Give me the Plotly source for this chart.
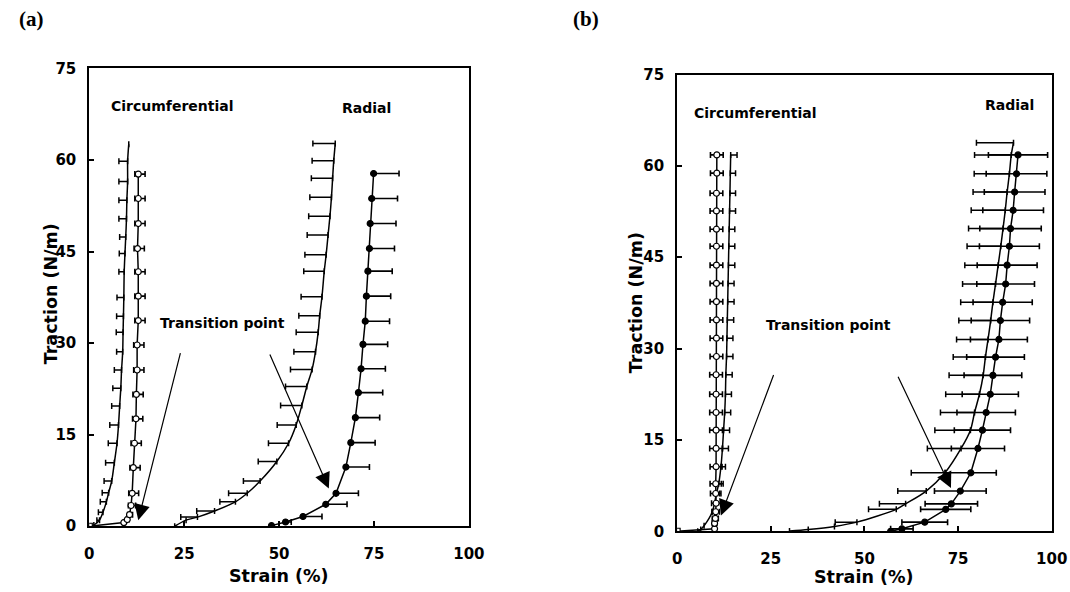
import plotly.graph_objects as go

# ---------------- Panel (a) data ----------------
circ_a_y = [0, 0.6, 1.1, 1.9, 3.4, 5.4, 9.6, 13.6, 17.6, 21.6, 25.6, 29.7, 33.7, 37.7, 41.7, 45.5, 49.6, 53.7, 57.7]
circ_a_x = [0.0, 9.1, 10.0, 10.6, 11.0, 11.3, 11.6, 11.9, 12.3, 12.4, 12.6, 12.6, 12.9, 12.9, 12.9, 12.7, 12.9, 12.9, 12.9]
circ_a_ep = [0, 0.3, 0.5, 0.8, 1.2, 1.7, 1.8, 1.8, 1.8, 1.8, 1.8, 1.8, 1.8, 1.8, 1.8, 1.8, 1.8, 1.8, 1.8]
circ_a_em = [0, 0.2, 0.3, 0.5, 0.7, 0.9, 0.9, 0.9, 0.9, 0.9, 0.9, 0.9, 0.9, 0.9, 0.9, 0.9, 0.9, 0.9, 0.9]

circ_fit_a_y = [0.0, 0.2, 1.0, 2.3, 4.0, 5.5, 7.4, 10.4, 13.6, 16.6, 19.7, 22.6, 25.6, 28.6, 31.8, 34.4, 37.5, 41.7, 44.7, 47.4, 50.4, 53.4, 56.5, 59.8, 62.6]
circ_fit_a_x = [0.3, 1.2, 2.7, 3.6, 4.5, 5.1, 5.9, 6.6, 7.3, 7.7, 8.0, 8.3, 8.5, 8.8, 8.9, 9.0, 9.1, 9.2, 9.4, 9.6, 9.8, 9.9, 10.1, 10.1, 10.4]
circ_fit_a_em = [0, 0, 0.7, 1.2, 1.6, 1.7, 2.0, 2.3, 2.3, 2.3, 2.1, 2.1, 1.9, 1.6, 1.8, 1.8, 1.8, 1.4, 1.5, 1.6, 2.0, 2.1, 2.3, 2.3, 0]

rad_a_y = [0.1, 0.7, 1.6, 3.6, 5.4, 9.7, 13.7, 17.8, 21.9, 25.8, 29.8, 33.6, 37.7, 41.8, 45.5, 49.6, 53.7, 57.8]
rad_a_x = [48.0, 51.7, 56.3, 62.3, 65.0, 67.6, 68.9, 70.1, 70.9, 71.6, 72.1, 72.7, 73.0, 73.4, 73.8, 74.0, 74.4, 74.9]
rad_a_ep = [0, 1.5, 5.0, 5.6, 5.9, 6.2, 6.4, 6.4, 6.4, 6.4, 6.5, 6.4, 6.4, 6.4, 6.6, 6.8, 6.8, 6.7]

rad_fit_a_y = [0.0, 1.0, 1.5, 2.5, 4.0, 5.4, 7.4, 10.6, 13.6, 16.6, 19.8, 22.9, 25.7, 28.6, 31.8, 34.5, 37.6, 41.8, 44.5, 47.7, 50.8, 53.9, 57.0, 59.9, 62.7]
rad_fit_a_x = [22.5, 25.5, 28.5, 33.0, 38.5, 41.6, 45.0, 49.4, 52.5, 54.5, 56.0, 57.3, 58.7, 59.6, 60.3, 60.7, 61.3, 61.9, 62.4, 62.9, 63.4, 63.8, 64.1, 64.4, 64.8]
rad_fit_a_em = [0, 0, 4.4, 4.7, 4.1, 4.9, 4.4, 4.9, 5.3, 5.0, 5.6, 5.6, 5.7, 5.7, 5.8, 5.5, 5.5, 5.4, 5.6, 5.5, 5.6, 5.7, 5.6, 5.7, 5.9]

# ---------------- Panel (b) data ----------------
circ_b_y = [0, 0.4, 1.3, 2.1, 3.2, 4.6, 6.2, 7.8, 10.6, 13.6, 16.6, 19.5, 22.5, 25.7, 28.7, 31.7, 34.7, 37.7, 40.7, 43.7, 46.8, 49.6, 52.6, 55.5, 58.8, 61.8]
circ_b_x = [0.0, 10.0, 10.0, 10.2, 10.3, 10.4, 10.3, 10.3, 10.4, 10.4, 10.4, 10.4, 10.4, 10.4, 10.5, 10.5, 10.5, 10.5, 10.5, 10.5, 10.5, 10.5, 10.5, 10.5, 10.6, 10.6]
circ_b_err = [0, 0.4, 0.6, 0.8, 1.0, 1.2, 1.4, 1.5, 1.6, 1.7, 1.7, 1.7, 1.7, 1.7, 1.7, 1.7, 1.7, 1.7, 1.7, 1.7, 1.7, 1.7, 1.7, 1.7, 1.7, 1.7]

circ_fit_b_y = [0.0, 0.3, 0.9, 3.2, 6.2, 7.8, 10.6, 13.6, 16.6, 19.5, 22.5, 25.7, 28.7, 31.7, 34.7, 37.7, 40.7, 43.7, 46.8, 49.6, 52.6, 55.5, 58.8, 61.8]
circ_fit_b_x = [5.5, 6.3, 7.2, 9.4, 10.5, 11.1, 11.7, 12.1, 12.4, 12.7, 12.9, 13.0, 13.2, 13.3, 13.4, 13.5, 13.6, 13.7, 13.8, 13.9, 14.0, 14.1, 14.2, 14.3]
circ_fit_b_ep = [0, 0, 0, 0, 0.8, 1.2, 1.2, 1.6, 1.6, 1.6, 1.6, 1.7, 1.7, 1.6, 1.7, 1.7, 1.6, 1.7, 1.6, 1.5, 1.6, 1.5, 1.4, 1.7]

rad_b_y = [0.0, 0.4, 1.5, 3.6, 4.5, 6.6, 9.6, 13.6, 16.6, 19.5, 22.5, 25.6, 28.6, 31.5, 34.6, 37.6, 40.6, 43.7, 46.8, 49.7, 52.7, 55.7, 58.7, 61.8]
rad_b_x = [57.0, 60.0, 66.1, 71.7, 73.2, 75.6, 78.4, 80.3, 81.5, 82.5, 83.6, 84.3, 85.0, 85.9, 86.3, 86.9, 87.7, 88.1, 88.7, 89.0, 89.7, 90.1, 90.6, 91.0]
rad_b_err = [0, 3.0, 6.1, 6.7, 7.0, 6.9, 6.8, 7.1, 7.5, 7.8, 7.5, 7.7, 7.7, 7.6, 7.8, 7.9, 7.7, 8.0, 8.0, 8.2, 8.1, 8.1, 8.1, 7.9]

rad_fit_b_y = [0.05, 0.3, 0.8, 1.5, 3.6, 4.5, 6.6, 9.6, 13.6, 16.6, 19.5, 22.5, 25.6, 28.6, 31.5, 34.6, 37.6, 40.6, 43.7, 46.8, 49.7, 52.7, 55.7, 58.7, 61.8, 63.8]
rad_fit_b_x = [30.0, 35.0, 42.0, 48.0, 58.5, 61.0, 66.5, 71.5, 75.8, 78.3, 79.4, 80.7, 81.7, 82.3, 83.0, 83.7, 84.3, 85.0, 85.7, 86.4, 87.0, 87.6, 88.1, 88.7, 89.2, 89.8]
rad_fit_b_em = [0, 0, 0, 5.8, 7.4, 7.0, 7.6, 9.0, 9.0, 9.5, 9.1, 9.0, 9.1, 8.6, 8.4, 8.5, 8.6, 8.8, 8.9, 9.0, 9.2, 9.1, 9.1, 9.4, 9.8, 9.9]

x_ticks = [0, 25, 50, 75, 100]
y_ticks = [0, 15, 30, 45, 60, 75]

W, H = 1070, 592
FONT = "DejaVu Sans"
BLACK = "#000000"


def fx(p):
    """target horizontal pixel -> paper fraction"""
    return ((p - 3.4) / 0.984) / W


def fy(p):
    """target vertical pixel (from top) -> paper fraction"""
    return 1 - ((p - 9.6) / 0.968) / H


fig = go.Figure()


def add_fit(x, y, ex_plus, ex_minus, xa, ya):
    fig.add_trace(go.Scatter(
        x=x, y=y, mode="lines", xaxis=xa, yaxis=ya,
        line=dict(color=BLACK, width=1.5, shape="spline", smoothing=0.8),
        error_x=dict(type="data", symmetric=False, array=ex_plus, arrayminus=ex_minus,
                     color=BLACK, thickness=1.5, width=3),
        showlegend=False, hoverinfo="skip"))


def add_data(x, y, ex_plus, ex_minus, xa, ya, filled):
    syms = ["square"] + ["circle"] * (len(x) - 1)
    fig.add_trace(go.Scatter(
        x=x, y=y, mode="lines+markers", xaxis=xa, yaxis=ya,
        line=dict(color=BLACK, width=1.5),
        marker=dict(symbol=syms if not filled else "circle", size=6,
                    color=BLACK if filled else "white",
                    line=dict(color=BLACK, width=1.2)),
        error_x=dict(type="data", symmetric=False, array=ex_plus, arrayminus=ex_minus,
                     color=BLACK, thickness=1.6, width=3),
        showlegend=False, hoverinfo="skip"))


zeros = lambda n: [0] * n

# panel (a)
add_fit(circ_fit_a_x, circ_fit_a_y, zeros(len(circ_fit_a_x)), circ_fit_a_em, "x", "y")
add_fit(rad_fit_a_x, rad_fit_a_y, zeros(len(rad_fit_a_x)), rad_fit_a_em, "x", "y")
add_data(circ_a_x, circ_a_y, circ_a_ep, circ_a_em, "x", "y", False)
add_data(rad_a_x, rad_a_y, rad_a_ep, zeros(len(rad_a_x)), "x", "y", True)

# panel (b)
add_fit(circ_fit_b_x, circ_fit_b_y, circ_fit_b_ep, zeros(len(circ_fit_b_x)), "x2", "y2")
add_fit(rad_fit_b_x, rad_fit_b_y, zeros(len(rad_fit_b_x)), rad_fit_b_em, "x2", "y2")
add_data(rad_b_x, rad_b_y, rad_b_err, rad_b_err, "x2", "y2", True)
add_data(circ_b_x, circ_b_y, circ_b_err, circ_b_err, "x2", "y2", False)

axis_common = dict(
    showline=True, mirror=True, linecolor=BLACK, linewidth=2,
    ticks="inside", ticklen=5, tickwidth=1.5, tickcolor=BLACK,
    showgrid=False, zeroline=False,
    tickfont=dict(family=FONT, size=15, color=BLACK, weight="bold"),
)

fig.update_layout(
    width=W, height=H,
    margin=dict(l=0, r=0, t=0, b=0),
    paper_bgcolor="white", plot_bgcolor="white",
    xaxis=dict(domain=[fx(88), fx(469)], range=[0, 100], tickvals=x_ticks, anchor="y",
               ticklabelstandoff=13, **axis_common),
    yaxis=dict(domain=[fy(526), fy(69)], range=[0, 75], tickvals=y_ticks, anchor="x",
               ticklabelstandoff=8, **axis_common),
    xaxis2=dict(domain=[fx(678), fx(1054)], range=[0, 100], tickvals=x_ticks, anchor="y2",
                ticklabelstandoff=13, **axis_common),
    yaxis2=dict(domain=[fy(531), fy(75)], range=[0, 75], tickvals=y_ticks, anchor="x2",
                ticklabelstandoff=8, **axis_common),
)

label_font = dict(family=FONT, size=14, color=BLACK, weight="bold")
title_font = dict(family=FONT, size=17.5, color=BLACK, weight="bold")
panel_font = dict(family="Liberation Serif", size=21, color=BLACK, weight="bold")

pap = dict(xref="paper", yref="paper", showarrow=False, xanchor="center", yanchor="middle")
ann = []
# panel letters
ann.append(dict(text="(a)", x=fx(30), y=fy(20), font=panel_font, **pap))
ann.append(dict(text="(b)", x=fx(587), y=fy(20), font=panel_font, **pap))
# axis titles
ann.append(dict(text="Traction (N/m)", x=fx(49), y=fy(294), textangle=-90, font=title_font, **pap))
ann.append(dict(text="Strain (%)", x=fx(278), y=fy(576), font=title_font, **pap))
ann.append(dict(text="Traction (N/m)", x=fx(637), y=fy(303), textangle=-90, font=title_font, **pap))
ann.append(dict(text="Strain (%)", x=fx(866), y=fy(577), font=title_font, **pap))

dat = dict(showarrow=False, xanchor="center", yanchor="middle")
# in-plot labels (a)
ann.append(dict(text="Circumferential", x=22.0, y=68.9, xref="x", yref="y", font=label_font, **dat))
ann.append(dict(text="Radial", x=72.9, y=68.5, xref="x", yref="y", font=label_font, **dat))
ann.append(dict(text="Transition point", x=35.2, y=33.3, xref="x", yref="y", font=label_font, **dat))
# in-plot labels (b)
ann.append(dict(text="Circumferential", x=20.9, y=68.6, xref="x2", yref="y2", font=label_font, **dat))
ann.append(dict(text="Radial", x=88.6, y=70.0, xref="x2", yref="y2", font=label_font, **dat))
ann.append(dict(text="Transition point", x=40.5, y=33.9, xref="x2", yref="y2", font=label_font, **dat))

arrow_style = dict(showarrow=True, arrowhead=2, arrowsize=2.6, arrowwidth=1.2, arrowcolor=BLACK, standoff=0, text="")
# arrows (a)
ann.append(dict(x=12.9, y=1.0, ax=24.1, ay=28.6, xref="x", yref="y", axref="x", ayref="y", **arrow_style))
ann.append(dict(x=63.1, y=6.2, ax=47.4, ay=28.4, xref="x", yref="y", axref="x", ayref="y", **arrow_style))
# arrows (b)
ann.append(dict(x=11.7, y=2.6, ax=25.9, ay=25.9, xref="x2", yref="y2", axref="x2", ayref="y2", **arrow_style))
ann.append(dict(x=73.1, y=7.1, ax=58.8, ay=25.6, xref="x2", yref="y2", axref="x2", ayref="y2", **arrow_style))

fig.update_layout(annotations=ann)

fig.write_html("out.html")
